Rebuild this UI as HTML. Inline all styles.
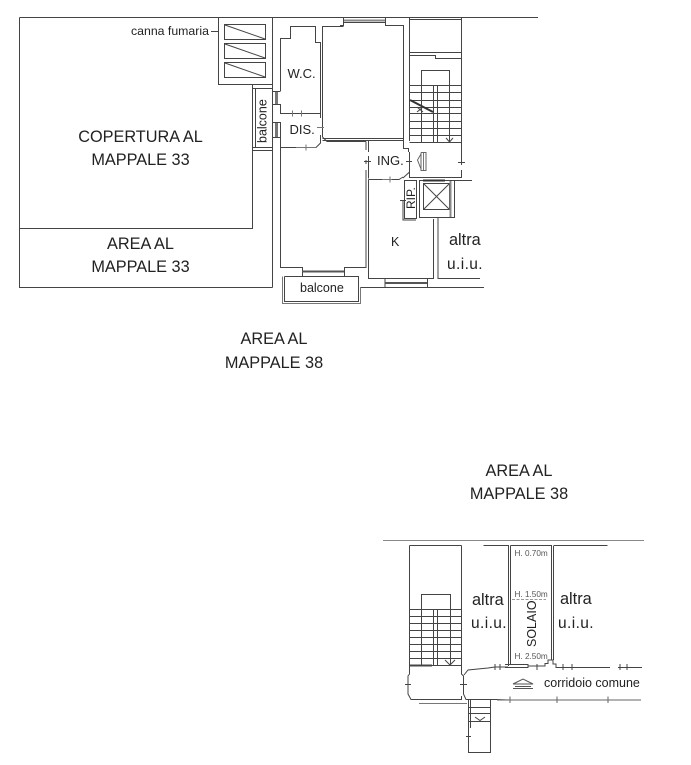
<!DOCTYPE html>
<html><head><meta charset="utf-8"><style>
html,body{margin:0;padding:0;background:#fff}
svg{display:block}
text{font-family:"Liberation Sans",sans-serif;fill:#222}
.t{font-size:16.3px}
</style></head><body>
<svg width="691" height="765" viewBox="0 0 691 765" xmlns="http://www.w3.org/2000/svg">
<g fill="none" stroke="#444" stroke-width="1">
<!-- outer -->
<path d="M19.5 17.5H538M19.5 17.5V287.5H272.5M19.5 228.5H252.5V84.5H218.5V17.5M272.5 17.5V287.5"/>
<path d="M218.5 84.5H272.5"/>
<path d="M360 287.5H484"/>
<!-- flue -->
<rect x="224.5" y="24.5" width="41" height="15"/><rect x="224.5" y="43.5" width="41" height="15"/><rect x="224.5" y="62.5" width="41" height="15"/>
<path d="M225 25L265 39M225 44L265 58M225 63L265 77"/>
<path d="M211 31.5H218"/>
<!-- balcone side -->
<path d="M252.5 85V150M255.5 88V147M252.5 88.5H272M252.5 147.5H272M252.5 150.5H272"/>
<!-- WC -->
<path d="M280.5 91V38.5H290.5V26.5H315.5V42.5H320.5V118M322.5 137V26.5H343.5M280.5 104V113.5H320.5"/>
<path d="M292.5 110.5V116.5M301.5 110.5V116.5" stroke="#777"/>
<path d="M273 91.5H280.5M273 104.5H280.5M273 122.5H280.5M273 137.5H280.5"/>
<path d="M276.5 92V104M276.5 123V137" stroke="#777" stroke-width="3"/>
<!-- DIS -->
<path d="M280.5 122V147.5H296M306 147.5H316L320.5 143V135M322.5 137L327 141.5H366"/>
<path d="M281 113.5H292" />
<path d="M296 147.5H316M306 144.5V150.5M317 127.5H324" stroke="#777"/>
<!-- big room -->
<path d="M340 25.5H343.5V17.5M343.5 22.5H385.5M385.5 17.5V25.5H403.5V140.5H322.5M322.5 138.5H403.5M403.5 140.5V148.5H408.5V152"/>
<path d="M344 20.5H385" stroke="#888" stroke-width="2"/>
<path d="M409.5 17.5V141"/>
<path d="M461.5 17.5V142"/>
<!-- stairs top -->
<path d="M409.5 19.5H461.5M409.5 52.5H461.5M409.5 55.5H435.5V58.5H461.5"/>
<path d="M421.5 85V70.5H449.5V85"/>
<path d="M409.5 85.5H461.5M409.5 92.5H461.5M409.5 100.5H461.5M409.5 107.5H461.5M409.5 113.5H461.5M409.5 121.5H461.5M409.5 128.5H461.5M409.5 135.5H461.5M409.5 142.5H461.5"/>
<path d="M421.5 85V142M433.5 85V142M437.5 85V142M449.5 85V142"/>
<path d="M410 100L433 112" stroke="#333" stroke-width="2"/>
<path d="M417 112L423 107M417 107L423 112M446 138L449.5 142L453 138"/>
<!-- lower left room -->
<path d="M280.5 147.5V267.5H302.5V276M344.5 276V267.5H366V170M366 141.5V150M366 160V164"/>
<path d="M368.5 141V152M368.5 156V178.5M364 161.5H371"/>
<path d="M302 271.5H344" stroke="#555" stroke-width="2"/>
<!-- balcone bottom -->
<path d="M282.5 276.5V303.5H360.5V287" stroke="#777"/>
<path d="M284.5 276.5V301.5H358.5V276.5H284.5"/>
<!-- ING / kitchen -->
<path d="M368.5 179.5H382M392 179.5H399L403 177M368.5 179.5V278.5H433.5V219"/>
<path d="M382 179.5H392M390 176.5V182.5" stroke="#777"/>
<path d="M409.5 152V172L403 178M409.5 172V177.5H461.5V170M461.5 152V142M461.5 152V165"/>
<path d="M406 161.5H412M458 162.5H465"/>
<path d="M454 180.5H472"/>
<!-- RIP -->
<rect x="404.5" y="180.5" width="12" height="38"/>
<path d="M403 200V220H416M400 200.5H406"/>
<!-- lift -->
<rect x="419.5" y="180.5" width="35" height="37"/>
<rect x="423.5" y="183.5" width="26" height="26"/>
<path d="M424 184L449 209M449 184L424 209"/>
<path d="M423 180.5H445" stroke="#333" stroke-width="2"/>
<path d="M450.5 181V217" stroke="#888" stroke-width="2"/>
<path d="M438 218V278.5H480"/>
<!-- K bottom window -->
<path d="M385 278V287M427.5 278V287"/>
<path d="M385 283H427" stroke="#555" stroke-width="2"/>
<!-- shutter glyph -->
<path d="M421 152.5H426V170.5H421V152.5M421 154L417.5 160L421 169" stroke="#666"/>
<path d="M423.5 153V170" stroke="#777"/>
<!-- lower part -->
<path d="M383 540.5H644" stroke="#888"/>
<path d="M409.5 545.5H461.5M409.5 545.5V665M461.5 545.5V665"/>
<path d="M421.5 609V594.5H450.5V609"/>
<path d="M409.5 609.5H461.5M409.5 616.5H461.5M409.5 623.5H461.5M409.5 630.5H461.5M409.5 637.5H461.5M409.5 644.5H461.5M409.5 651.5H461.5M409.5 658.5H461.5M409.5 665.5H461.5"/>
<path d="M421.5 609V665M433.5 609V665M437.5 609V665M450.5 609V665"/>
<path d="M409.5 665.5H432" stroke-width="2"/>
<path d="M445 660L450 665L455 660"/>
<path d="M409.5 665V674L408 676V694L411 699.5H461.5V696M405 684.5H411"/>
<path d="M461.5 665V674L463.5 676V694L466 699.5H497L510 700"/>
<path d="M460 684.5H467"/>
<path d="M464 675L468 670L488 668L495 667H508M495 664V670M500 664V670"/>
<path d="M419 703.5H467" stroke="#777"/>
<path d="M468.5 699.5V752.5H490.5V699.5"/>
<path d="M470.5 700V728M466 736.5H471"/>
<path d="M468.5 707.5H490.5M468.5 713.5H490.5M468.5 721.5H490.5"/>
<path d="M475 717L480 720.5L485 717"/>
<path d="M483.5 545.5H508.5V666M510.5 545.5V665M510.5 545.5H551.5V660M553.5 545.5H607.5M553.5 546V660"/>
<path d="M505 664.5H528V667.5H505M528 666H545V663.5H548V660H553V664H556V667.5H610M618 667.5H642"/>
<path d="M537 664V670M563 664V670M572 664V670M620 664V670M627 664V670"/>
<path d="M497 700H641M510 696.5V703M557 696.5V703M608 696.5V703" stroke="#666"/>
<path d="M512 599.5H546" stroke="#999" stroke-dasharray="3 1.5"/>
<!-- corridor symbol -->
<path d="M513 684L523 679L533 684H513M515 686.5H531M513 688.5H533" stroke="#555"/>
</g>
<!-- Labels -->
<text x="131" y="35" font-size="12.3">canna fumaria</text>
<text x="287.5" y="78" font-size="13">W.C.</text>
<text x="289.5" y="134" font-size="13">DIS.</text>
<text x="377" y="165" font-size="13">ING.</text>
<text x="391" y="246" font-size="12.5">K</text>
<text x="300" y="292" font-size="12.5">balcone</text>
<text x="266.5" y="143" font-size="12.5" transform="rotate(-90 266.5 143)">balcone</text>
<text x="415" y="209" font-size="12" transform="rotate(-90 415 209)">RIP.</text>
<text class="t" x="140.500" y="142" text-anchor="middle">COPERTURA AL</text>
<text class="t" x="140.500" y="165" text-anchor="middle">MAPPALE 33</text>
<text class="t" x="140.500" y="249" text-anchor="middle">AREA AL</text>
<text class="t" x="140.500" y="272" text-anchor="middle">MAPPALE 33</text>
<text class="t" x="274" y="344" text-anchor="middle">AREA AL</text>
<text class="t" x="274" y="368" text-anchor="middle">MAPPALE 38</text>
<text class="t" x="519" y="476" text-anchor="middle">AREA AL</text>
<text class="t" x="519" y="499" text-anchor="middle">MAPPALE 38</text>
<text class="t" x="449" y="245">altra</text>
<text x="447" y="269" font-size="15.5" letter-spacing="0.4">u.i.u.</text>
<text class="t" x="472" y="605">altra</text>
<text x="471" y="628" font-size="15.5" letter-spacing="0.4">u.i.u.</text>
<text class="t" x="560" y="604">altra</text>
<text x="558" y="628" font-size="15.5" letter-spacing="0.4">u.i.u.</text>
<text x="514.500" y="556" font-size="8.2" style="fill:#555">H. 0.70m</text>
<text x="514.500" y="597" font-size="8.2" style="fill:#555">H. 1.50m</text>
<text x="514.500" y="659" font-size="8.2" style="fill:#555">H. 2.50m</text>
<text x="536" y="647" font-size="12.5" transform="rotate(-90 536 647)">SOLAIO</text>
<text x="544" y="687" font-size="12.5">corridoio comune</text>
</svg>
</body></html>
